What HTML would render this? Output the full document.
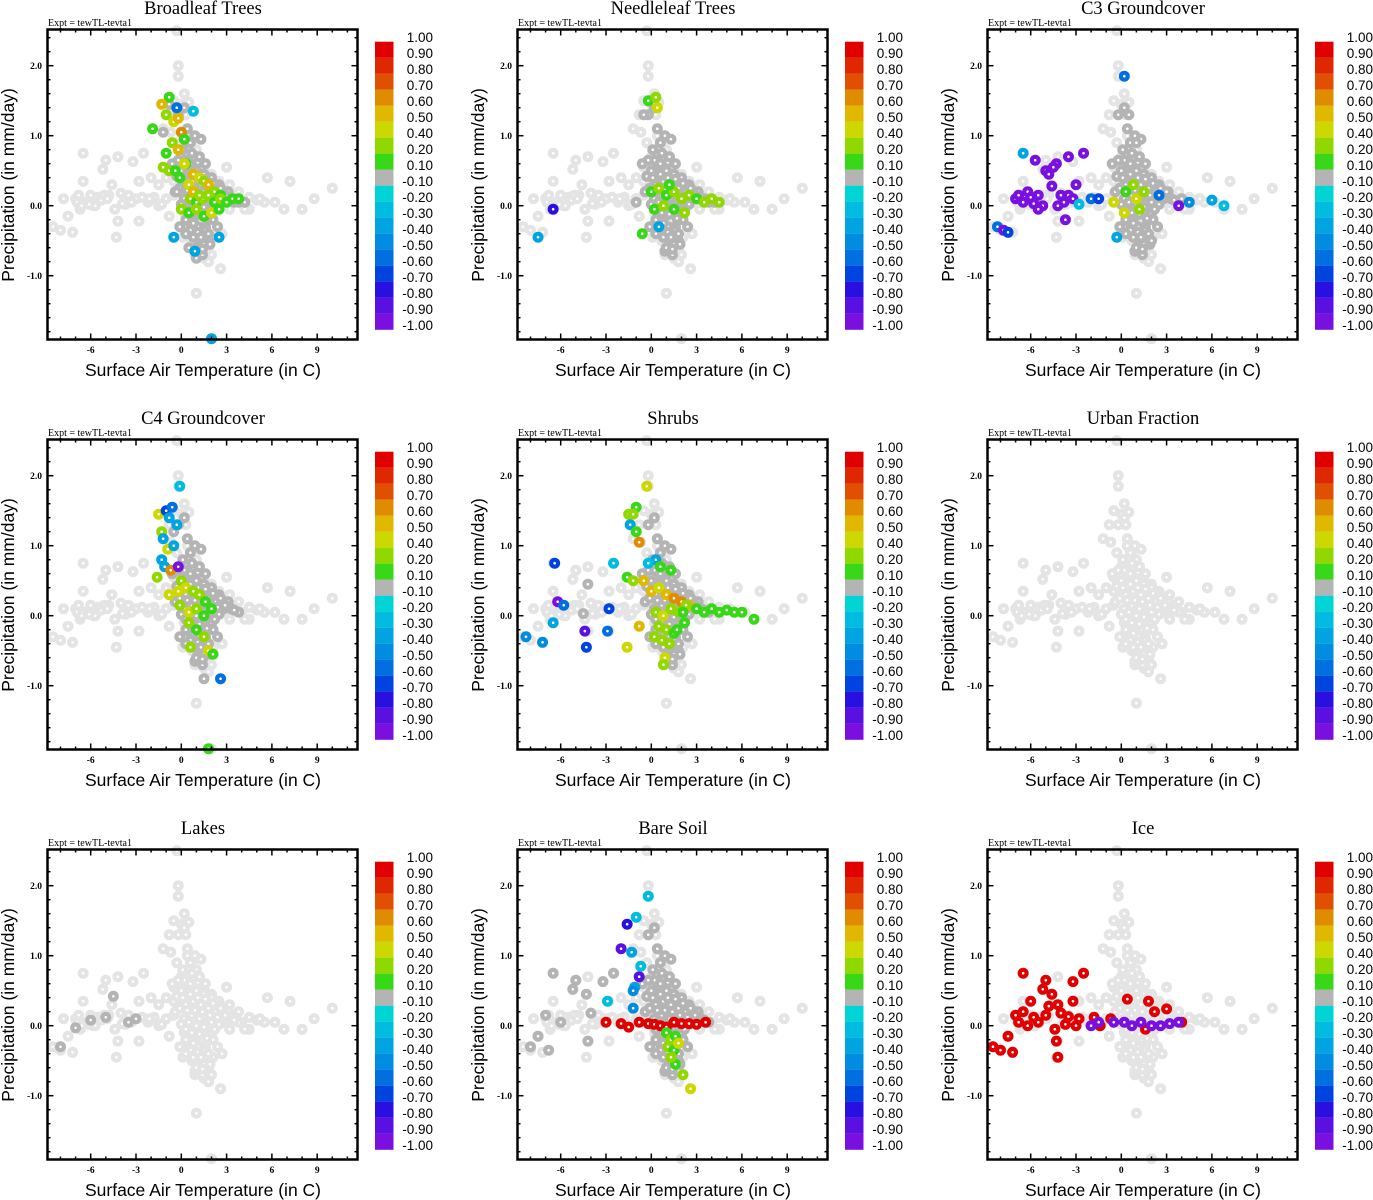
<!DOCTYPE html>
<html><head><meta charset="utf-8"><style>
html,body{margin:0;padding:0;background:#fff}
svg{display:block}
</style></head><body>
<svg id="fig" width="1373" height="1200" xmlns="http://www.w3.org/2000/svg"></svg>
<script>
const panelTitles=["Broadleaf Trees","Needleleaf Trees","C3 Groundcover","C4 Groundcover","Shrubs","Urban Fraction","Lakes","Bare Soil","Ice"];
const xTicks=[-6,-3,0,3,6,9];
const yTicks=[-1,0,1,2];
const yTickLabels=["-1.0","0.0","1.0","2.0"];
const cbLabels=["1.00","0.90","0.80","0.70","0.60","0.50","0.40","0.20","0.10","-0.10","-0.20","-0.30","-0.40","-0.50","-0.60","-0.70","-0.80","-0.90","-1.00"];
const cbValues=[1,0.9,0.8,0.7,0.6,0.5,0.4,0.2,0.1,-0.1,-0.2,-0.3,-0.4,-0.5,-0.6,-0.7,-0.8,-0.9,-1];
const cbColors=["#e00000","#e02800","#e05000","#e08c00","#e0b800","#ccd800","#90d800","#38d818","#b4b4b4","#00d4d4","#00bce0","#00a4e0","#008ce0","#0070e0","#0044e0","#2a10e0","#5a10e0","#7a10e0"];
// base cloud (temperature C, precip mm/day)
const baseT=[-8.5,-8,-7.5,-7.2,-7,-6.8,-6.5,-6.3,-6,-5.8,-5.5,-5.2,-5,-4.8,-4.6,-4.4,-4.2,-4,-3.7,-3.5,-3.2,-3,-2.8,-2.5,-2.2,-2,-1.8,-1.5,-6.5,-4.3,-4.2,-2.8,-1.5,-1,-5.7,-6.7,3,3.5,4,4.5,5,5.5,5.7,6.8,7.2,8,8.8,10,4.5,3.8,-0.2,-0.2,0.2,-0.5,0,0.5,-0.8,0.3,-1.2,-0.7,0.4,0.8,1,-0.3,0,1.2,-0.5,0.3,1.5,2,2.5,-1,0,0.7,1.2,1.8,2.3,2.8,-0.5,0.4,1,1.6,2.2,0.2,0.8,1.4,2,0.5,1.1,1.6,2.1,0.7,1.2,1.8,0.9,1.5,2,1.8,2.6,1,2,-0.3,3.2,2.7,0.1,-0.8,3,-0.5,-6.9,-6.6,-5.3,-5.1,-3.9,-3.3,-2.6,-2.1,-1.3,-7.8,-6.1,-4.9,5.2,4.2,6.2,3.2];
const baseP=[-0.3,-0.35,-0.15,-0.38,0.1,0.15,0.35,0.05,0.15,0,0.12,0.52,0.65,0.15,0.3,-0.05,0.7,0.18,0.02,0.15,0.63,0.1,0.35,0.75,0.05,0.4,0.12,0.3,0.75,-0.45,-0.22,-0.22,0,0.1,0,-0.05,0.1,0.15,0.05,0.12,0.08,0.05,0.4,-0.05,0.35,-0.05,0.1,0.25,-0.05,0.2,2,1.85,1.6,1.5,1.45,1.48,1.3,1.3,1.1,1.05,1,0.95,0.8,0.9,0.7,0.7,0.55,0.5,0.55,0.45,0.35,0.4,0.3,0.35,0.25,0.2,0.15,0.05,0.15,0.1,0.05,0,-0.05,-0.1,-0.15,-0.2,-0.15,-0.3,-0.35,-0.4,-0.45,-0.5,-0.55,-0.6,-0.7,-0.75,-0.7,-0.8,-0.9,-1.25,-1.9,2.5,0.3,-0.4,-0.45,-0.15,0.55,0.35,0.05,0.0,0.08,0.15,0.03,0.05,0.12,0.1,0.02,0.1,0.02,0.1,0.1,-0.05,0.05,-0.05];
// dense core of the cloud
const coreT=[0,0.5,1,1.5,2,2.5,0.3,0.8,1.3,1.8,2.3,2.8,0.2,0.7,1.2,1.7,2.2,0.5,1,1.5,2,0.6,1.1,1.6,0.8,1.3,1.8,0.9,1.4,0.1,0.4,0.6,-0.2,0.2,3.3,3.8,-0.4,0.3,0.9,1.5,2.1,
  -0.3,0.1,0.6,1.1,1.6,2.1,2.6,3.1,-0.1,0.4,0.9,1.4,1.9,2.4,2.9,3.5,0,0.5,1,1.5,2,2.5,0.3,0.7,1.2,1.7,2.2,0.6,1.1,1.6,2.4,1,1.4,1.9,0.2,0.6,1.1,1.6,0.7,1.2,0.9,1.3,-0.1,0.3,0.8,1.3,1.8,-0.6,-0.2];
const coreP=[0.5,0.55,0.5,0.45,0.4,0.3,0.3,0.35,0.3,0.25,0.2,0.1,0.1,0.15,0.1,0.05,0,-0.1,-0.05,-0.1,-0.1,-0.25,-0.3,-0.3,-0.45,-0.5,-0.5,-0.65,-0.7,0.8,1.1,0.9,1.3,1.4,0.1,0.05,0.2,-0.2,-0.15,-0.55,-0.2,
  0.42,0.4,0.45,0.4,0.38,0.32,0.25,0.2,0.25,0.22,0.22,0.2,0.15,0.12,0.15,0.08,0.02,0.05,0.0,-0.02,0.05,0.02,-0.05,-0.1,-0.12,-0.18,-0.05,-0.35,-0.38,-0.35,-0.3,-0.6,-0.62,-0.55,0.65,0.6,0.62,0.6,0.75,0.7,1.0,0.95,-0.3,-0.4,-0.25,-0.45,-0.4,0.6,0.65];
// panels where core cloud is dark gray (|r|<0.1) vs missing
const coreDark=[1,1,1,1,1,0,0,1,0];
// extra dark-gray points per panel
const darkT=[[-1.2,-0.8,-0.3,0.5,1,3.5,4.2],[-0.5,0.2,-1,3.5,4.2],[0.5,1,2,3,4],[-0.5,0.3,1.5],[-4.2,-4.5,0.3,3.5],[],[-4.5,-3.5,-3,-6,-5,-7,-8],[-6.5,-5.2,-5,-4.3,-4,-7,-6,-3.2,-2.5,-8,-7.5,-6.8,-4.2],[]];
const darkP=[[1.05,1.45,0.2,-0.6,-0.75,0.05,0.05],[1.3,1.45,0.05,0.1,0.05],[1.3,0.9,-0.5,0.2,0.1],[1.2,-0.4,-0.9],[0.45,0.03,-0.2,0.05],[],[0.42,0.05,0.1,0.08,0.12,-0.03,-0.3],[0.75,0.52,0.65,0.45,0.18,0.15,0.05,0.63,0.75,-0.3,-0.15,-0.35,-0.22],[]];
// colored points per panel: temperature, precip, correlation value
const colT=[
[-0.8,-0.3,-1.3,-1,-0.5,-0.2,0,0.2,-1.9,-0.6,-0.2,0.3,-1.2,-0.8,-1,0.5,-0.1,0.8,1.2,1.5,1.8,2.2,2.6,0.6,1,1.4,1.8,2.2,2.6,3,3.4,3.8,0,0.5,1,1.5,2,2.5,-0.4,0.2,0.8,1.2,-0.5,0.9,2.5,2,-0.3,0.8],
[-0.2,0.3,0.4,0,0.5,1,1.5,2,2.5,3,3.5,4,4.5,0.2,0.8,1.5,2.2,-0.6,-6.5,-7.5,1.2,0.5],
[-8.2,-7.8,-7.5,-7,-6.8,-6.5,-6.2,-6,-5.8,-5.5,-5.2,-5,-4.8,-4.6,-4.3,-4,-3.8,-3.5,-3.2,-3,-6.5,-5.7,-4.5,-3.5,-2.5,-2,-5.5,-4.2,-3.7,-2.8,-0.5,0.3,0.8,1,1.5,0.2,1.2,2.5,4.5,6,6.8,-1.5,3.8,-0.3,0.2],
[-1.5,-1.3,-1,-0.8,-0.6,-0.3,-1.2,-0.9,-0.5,-1.3,-1.1,-0.7,-0.2,0,-1.6,-0.8,-0.2,0.3,0.8,1.2,1.6,2,-0.1,0.5,1,1.5,0.5,1,1.5,1.8,2.1,2.6,1.8,-0.1,0.6],
[-0.3,-1.5,-1,-1.4,-1,-0.8,0.3,-1.2,-0.2,0.6,1.3,-1.6,-1.2,-0.5,0,0.5,1,1.5,2,2.5,3,3.5,4,4.5,5,5.5,6,6.8,0.3,0.8,1.3,1.8,2.3,0.5,1,1.5,0.2,0.7,1.2,1.7,2.2,-1.6,-0.8,0.9,0.8,-6.4,-6.2,-6.5,-5.8,-4.4,-4.3,-2.8,-2.9,-8.3,-7.2,-2.5,2.1],
[],
[],
[-0.2,-1.6,-1,-2,-1.3,-0.8,-1.1,-1.2,-0.7,-2.9,-1.2,-3,-2,-1.5,-0.8,-0.2,0.2,0.6,1,1.5,2,2.5,3,3.6,1,1.3,1.6,1.1,1.5,1.8,1.6,2.1,2.6,1.3],
[-7,-6.8,-6.5,-6.2,-6,-5.8,-5.5,-5.2,-5,-4.8,-4.6,-4.4,-4.2,-4,-3.7,-3.5,-3.2,-3,-2.8,-2.5,-6.5,-5,-3.2,-4.3,-4.2,-8.5,-8,-7.5,-7.2,-1.8,-1.4,-0.7,0.4,1.8,2.2,3,4,1.6,-2,-1.5,-0.5,0.2,0.7,1.3,2,2.6,3.2,3.8]
];
const colP=[
[1.55,1.4,1.45,1.3,1.2,1.25,1.05,0.95,1.1,0.9,0.8,0.6,0.55,0.5,0.75,0.3,0.4,0.45,0.4,0.35,0.3,0.2,0.15,0.1,0.05,0.1,0.15,0.05,0.1,0.05,0.1,0.1,-0.05,-0.1,-0.05,-0.15,-0.1,-0.05,0.5,0.6,0.2,0.15,-0.45,-0.65,-0.45,-1.9,1.4,1.35],
[1.5,1.55,1.4,0.2,0.25,0.15,0.2,0.1,0.15,0.1,0.05,0.1,0.05,-0.05,0,-0.05,-0.1,-0.4,-0.05,-0.45,0.3,-0.3],
[-0.3,-0.35,-0.38,0.1,0.15,0.05,0.2,0.12,0.03,0.15,0,0.5,0.45,0.28,0.6,0.15,0.05,0.15,0.1,0.3,0.75,0.65,0.55,0.7,0.75,0.1,-0.05,0,-0.2,0.02,0.05,0.2,0.3,0.1,0.2,-0.1,-0.05,0.15,0.05,0.08,0,0.1,0,-0.45,1.85],
[1.45,1.2,1.5,1.4,1.55,1.3,1.1,0.95,1.0,0.8,0.7,0.65,0.7,0.5,0.55,0.3,0.35,0.4,0.35,0.3,0.2,0.1,0.15,0.05,0.1,0,-0.1,-0.2,-0.3,-0.5,-0.55,-0.9,-1.9,1.85,-0.45],
[1.85,1.45,1.55,1.3,1.2,1.05,0.8,1.45,0.75,0.7,0.65,0.55,0.5,0.5,0.35,0.4,0.3,0.25,0.2,0.15,0.1,0.05,0.1,0.05,0.08,0.05,0.05,-0.05,0.05,0,0.1,0.05,0.15,-0.15,-0.2,-0.25,-0.3,-0.35,-0.4,-0.2,-0.1,-0.45,-0.15,-0.6,-0.7,0.75,0.2,-0.1,0.15,-0.22,-0.45,0.1,-0.22,-0.3,-0.38,0.75,0.05],
[],
[],
[1.85,1.45,1.55,1.1,1.05,0.7,0.55,0.5,0.85,0.35,0.25,0.05,0.03,-0.02,0.05,0.03,0.02,0,-0.02,0.05,0.03,0.03,0.02,0.05,-0.1,-0.2,-0.15,-0.3,-0.35,-0.25,-0.55,-0.7,-0.9,-0.45],
[0.15,0.05,0.2,0,0.35,0.12,0.05,0.52,0.65,0.28,0.45,-0.05,0.3,0.18,0.02,0.13,0.63,0,0.1,0.75,0.75,0.15,0.35,-0.22,-0.45,-0.3,-0.35,-0.15,-0.38,0.12,0,0.1,0.38,0.35,0.2,0.24,0.05,-0.05,0,0.05,0.05,0.05,0,0.05,0,0,0.03,0.05]
];
const colV=[
[0.15,0.6,0.55,0.3,0.45,0.6,0.65,0.15,0.15,0.3,0.6,0.15,0.3,0.3,0.15,0.5,0.15,0.55,0.45,0.3,0.55,0.3,0.15,0.3,0.15,0.3,0.3,0.15,0.3,0.15,0.15,0.15,0.3,0.15,0.3,0.15,0.45,0.15,0.15,0.5,0.6,0.3,-0.35,-0.3,-0.3,-0.3,-0.55,-0.25],
[0.15,0.3,0.45,0.15,0.3,0.15,0.3,0.3,0.3,0.15,0.3,0.3,0.3,0.15,0.3,0.15,0.3,0.15,-0.75,-0.3,0.15,-0.3],
[-0.55,-0.9,-0.6,-0.95,-0.95,-0.95,-0.95,-0.95,-0.95,-0.95,-0.95,-0.95,-0.95,-0.95,-0.95,-0.95,-0.95,-0.95,-0.95,-0.95,-0.3,-0.95,-0.95,-0.95,-0.95,-0.55,-0.95,-0.95,-0.95,-0.25,0.45,0.15,0.3,0.45,0.3,0.5,0.3,-0.55,-0.45,-0.3,-0.25,-0.65,-0.9,-0.3,-0.55],
[0.45,0.3,-0.65,-0.35,-0.55,-0.3,-0.3,0.45,-0.3,-0.35,-0.3,0.7,-0.9,0.3,0.3,0.5,0.45,0.5,0.3,0.3,0.15,0.15,0.3,0.5,0.3,0.15,0.3,0.15,0.3,0.45,0.15,-0.55,0.15,-0.25,0.3],
[0.5,0.3,0.15,-0.35,0.15,0.7,-0.3,0.3,-0.25,0.15,0.15,0.15,0.3,0.6,0.6,0.5,0.6,0.65,0.7,0.6,0.15,0.15,0.15,0.15,0.15,0.15,0.15,0.15,0.3,0.45,0.3,0.3,0.3,0.3,0.3,0.15,0.3,0.3,0.3,0.15,0.15,0.45,0.55,0.45,0.3,-0.6,-0.9,-0.3,-0.5,-0.8,-0.65,-0.6,-0.5,-0.45,-0.45,-0.25,0.15],
[],
[],
[-0.25,-0.75,-0.25,-0.8,-0.35,-0.8,-0.35,-0.45,-0.25,-0.25,-0.45,1,1,1,1,1,1,1,1,1,1,1,1,1,0.15,0.3,0.15,0.3,0.15,0.45,0.15,0.3,0.45,0.3],
[1,1,1,1,1,1,1,1,1,1,1,1,1,1,1,1,1,1,1,1,1,1,1,1,1,1,1,1,1,1,1,1,1,1,1,1,1,1,-0.95,-0.95,-0.95,-0.95,-0.95,-0.95,-0.95,-0.95,-0.95,-0.95]
];

const NS="http://www.w3.org/2000/svg";
const svg=document.getElementById('fig');
function mk(tag,attrs,parent){const e=document.createElementNS(NS,tag);for(const k in attrs)e.setAttribute(k,attrs[k]);(parent||svg).appendChild(e);return e;}
function colorFor(v){for(let i=0;i<18;i++){if(v<=cbValues[i]&&v>cbValues[i+1])return cbColors[i];}return v>0?cbColors[0]:cbColors[17];}

panelTitles.forEach((title,k)=>{
  const ox=(k%3)*470, oy=Math.floor(k/3)*410;
  const g=mk('g',{});
  
  
  const X0=ox+47.5,X1=ox+357.5,Y0=oy+29.5,Y1=oy+339.5;
  const xs=t=>ox+181.3+15.1*t;
  const ys=p=>oy+205.7-70*p;
  const clip='clip'+k;
  const cp=mk('clipPath',{id:clip},g);mk('rect',{x:X0-6,y:Y0-6,width:X1-X0+12,height:Y1-Y0+12},cp);
  const pts=mk('g',{'clip-path':'url(#'+clip+')'},g);
  
  
  function dot(t,p,c,nm){const e=mk('circle',{cx:xs(t),cy:ys(p),r:3.4,fill:'#fff',stroke:c,'stroke-width':4.2},pts);
    
    }
  baseT.forEach((t,i)=>dot(t,baseP[i],'#e4e4e4','point-missing'));
  coreT.forEach((t,i)=>dot(t,coreP[i],coreDark[k]?'#b4b4b4':'#e4e4e4','point-core'));
  darkT[k].forEach((t,i)=>dot(t,darkP[k][i],'#b4b4b4','point-neutral'));
  colT[k].forEach((t,i)=>dot(t,colP[k][i],colorFor(colV[k][i]),'point-colored'));
  const fr=mk('rect',{x:X0,y:Y0,width:X1-X0,height:Y1-Y0,fill:'none',stroke:'#000','stroke-width':2.5},g);
  
  
  for(let t=-8;t<=11;t++){const x=xs(t);const L=(t%3===0)?6:3;
    mk('line',{x1:x,y1:Y1,x2:x,y2:Y1-L,stroke:'#000','stroke-width':1.5},g);
    mk('line',{x1:x,y1:Y0,x2:x,y2:Y0+L,stroke:'#000','stroke-width':1.5},g);}
  xTicks.forEach(t=>{const e=mk('text',{x:xs(t),y:oy+353,'text-anchor':'middle','font-family':'Liberation Serif, serif','font-size':9.5,'font-weight':'bold'},g);e.textContent=t;
    
    });
  for(let j=-9;j<=12;j++){const p=j*0.2;const y=ys(p);if(y<Y0||y>Y1)continue;const L=(j%5===0)?6:3;
    mk('line',{x1:X0,y1:y,x2:X0+L,y2:y,stroke:'#000','stroke-width':1.5},g);
    mk('line',{x1:X1,y1:y,x2:X1-L,y2:y,stroke:'#000','stroke-width':1.5},g);}
  yTicks.forEach((p,i)=>{const e=mk('text',{x:ox+42,y:ys(p)+3.5,'text-anchor':'end','font-family':'Liberation Serif, serif','font-size':9.5,'font-weight':'bold'},g);e.textContent=yTickLabels[i];
    
    });
  const tt=mk('text',{x:ox+203,y:oy+14,'text-anchor':'middle','font-family':'Liberation Serif, serif','font-size':18.5},g);tt.textContent=title;
  
  
  const ex=mk('text',{x:ox+48,y:oy+26,'font-family':'Liberation Serif, serif','font-size':10},g);ex.textContent='Expt = tewTL-tevta1';
  
  
  const xl=mk('text',{x:ox+203,y:oy+376,'text-anchor':'middle','font-family':'Liberation Sans, sans-serif','font-size':17.5},g);xl.textContent='Surface Air Temperature (in C)';
  
  
  const yl=mk('text',{x:0,y:0,'text-anchor':'middle','font-family':'Liberation Sans, sans-serif','font-size':17.5,transform:'translate('+(ox+14)+','+(oy+185)+') rotate(-90)'},g);yl.textContent='Precipitation (in mm/day)';
  
  
  const cb=mk('g',{},g);
  
  
  cbColors.forEach((c,i)=>{const r=mk('rect',{x:ox+375,y:oy+41.7+16*i,width:18.5,height:16.1,fill:c},cb);
    
    });
  cbLabels.forEach((s,i)=>{const e=mk('text',{x:ox+433,y:oy+42+16*i,'text-anchor':'end','font-family':'Liberation Sans, sans-serif','font-size':13.5},cb);e.textContent=s;
    
    });
});
</script>
</body></html>
